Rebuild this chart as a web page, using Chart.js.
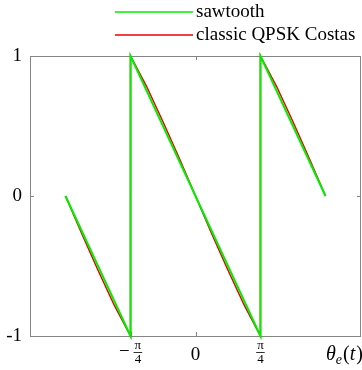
<!DOCTYPE html>
<html>
<head>
<meta charset="utf-8">
<script src="https://cdn.jsdelivr.net/npm/chart.js@4"></script>
<style>
  html, body { margin: 0; padding: 0; background: #fff; }
</style>
</head>
<body>
<canvas id="myChart" width="362" height="370"></canvas>
<script>
// phase error (rad) and detector output
var sawX = [-1.571, -0.785, -0.785, 0.785, 0.785, 1.571];
var sawY = [0, -1, 1, -1, 1, 0];

var costasX = [-1.571, -1.374, -1.178, -0.982, -0.785, -0.785, -0.589, -0.393, -0.196, 0,
    0.196, 0.393, 0.589, 0.785, 0.785, 0.982, 1.178, 1.374, 1.571];
var costasY = [0, -0.27, -0.53, -0.78, -1, 1, 0.78, 0.53, 0.27, 0,
    -0.27, -0.53, -0.78, -1, 1, 0.78, 0.53, 0.27, 0];

var xTicks = [-0.785, 0, 0.785];
var xTickLabels = ['−π/4', '0', 'π/4'];
var yTicks = [-1, 0, 1];
var yTickLabels = ['-1', '0', '1'];
var seriesNames = ['sawtooth', 'classic QPSK Costas'];

var toPoints = (xs, ys) => xs.map((x, i) => ({ x: x, y: ys[i] }))

var SERIF = '"Liberation Serif", "Times New Roman", serif';

// box, inward ticks, tick labels and legend
var frame = {
    id: 'frame',
    beforeDatasetsDraw(chart) {
        let c = chart.ctx, a = chart.chartArea
        let xs = chart.scales.x, ys = chart.scales.y
        c.save()
        c.strokeStyle = '#858585'
        c.lineWidth = 1
        c.strokeRect(a.left + 0.5, a.top + 0.5, a.right - a.left - 1, a.bottom - a.top)
        c.beginPath()
        xTicks.forEach(v => {
            let px = Math.round(xs.getPixelForValue(v)) + 0.5
            c.moveTo(px, a.bottom); c.lineTo(px, a.bottom - 4)
            c.moveTo(px, a.top); c.lineTo(px, a.top + 4)
        })
        yTicks.forEach(v => {
            let py = Math.round(ys.getPixelForValue(v)) + 0.5
            c.moveTo(a.left, py); c.lineTo(a.left + 4, py)
            c.moveTo(a.right, py); c.lineTo(a.right - 4, py)
        })
        c.stroke()
        c.restore()
    },
    afterDraw(chart) {
        let c = chart.ctx, a = chart.chartArea
        let xs = chart.scales.x, ys = chart.scales.y
        c.save()
        c.fillStyle = '#000'
        c.textBaseline = 'middle'

        // y tick labels
        c.font = '19px ' + SERIF
        c.textAlign = 'right'
        yTicks.forEach((v, i) => {
            c.fillText(yTickLabels[i], 22, ys.getPixelForValue(v))
        })

        // x tick labels, fractions stacked
        xTicks.forEach((v, i) => {
            let px = xs.getPixelForValue(v)
            let lab = xTickLabels[i]
            if (lab.indexOf('/') < 0) {
                c.font = '19px ' + SERIF
                c.textAlign = 'center'
                c.fillText(lab, px, 355)
                return
            }
            let sign = ''
            if (lab[0] == '−') { sign = '−'; lab = lab.slice(1) }
            let parts = lab.split('/')
            c.font = '19px ' + SERIF
            let sw = sign ? c.measureText(sign).width + 4 : 0
            c.font = '13px ' + SERIF
            let fw = Math.max(c.measureText(parts[0]).width, c.measureText(parts[1]).width) + 2
            let x0 = px - (sw + fw) / 2
            if (sign) {
                c.font = '19px ' + SERIF
                c.textAlign = 'left'
                c.fillText(sign, x0, 352)
            }
            let fc = x0 + sw + fw / 2
            c.font = '13px ' + SERIF
            c.textAlign = 'center'
            c.fillText(parts[0], fc, 346)
            c.fillText(parts[1], fc, 360)
            c.fillRect(fc - fw / 2, 352, fw, 0.8)
        })

        // axis label
        c.textAlign = 'left'
        c.font = 'italic 20px ' + SERIF
        let tx = 326
        c.fillText('θ', tx, 355)
        tx += c.measureText('θ').width
        c.font = 'italic 14px ' + SERIF
        c.fillText('e', tx, 360)
        tx += c.measureText('e').width + 1
        c.font = '20px ' + SERIF
        c.fillText('(', tx, 355)
        tx += c.measureText('(').width
        c.font = 'italic 20px ' + SERIF
        c.fillText('t', tx, 355)
        tx += c.measureText('t').width + 1
        c.font = '20px ' + SERIF
        c.fillText(')', tx, 355)

        // legend
        let rows = [12, 35]
        chart.data.datasets.forEach((ds, i) => {
            c.strokeStyle = ds.borderColor
            c.lineWidth = 1.5
            c.beginPath()
            c.moveTo(115, rows[i]); c.lineTo(193, rows[i])
            c.stroke()
            c.font = '19px ' + SERIF
            c.fillText(seriesNames[i], 196, rows[i])
        })
        c.restore()
    }
}

var ctx = document.getElementById('myChart').getContext('2d');
var myChart = new Chart(ctx, {
    type: 'scatter',
    data: {
        datasets: [{
            label: seriesNames[0],
            data: toPoints(sawX, sawY),
            showLine: true,
            borderColor: '#00ee00',
            borderWidth: 2,
            pointRadius: 0,
            clip: 4
        }, {
            label: seriesNames[1],
            data: toPoints(costasX, costasY),
            showLine: true,
            borderColor: '#ee0000',
            borderWidth: 1.5,
            pointRadius: 0,
            clip: 4
        }]
    },
    options: {
        responsive: false,
        animation: false,
        devicePixelRatio: 1,
        layout: { padding: { left: 30, top: 56, right: 1, bottom: 34 } },
        plugins: { legend: { display: false }, tooltip: { enabled: false } },
        scales: {
            x: { type: 'linear', display: false, min: -2, max: 2 },
            y: { type: 'linear', display: false, min: -1, max: 1 }
        }
    },
    plugins: [frame]
});
</script>
</body>
</html>
